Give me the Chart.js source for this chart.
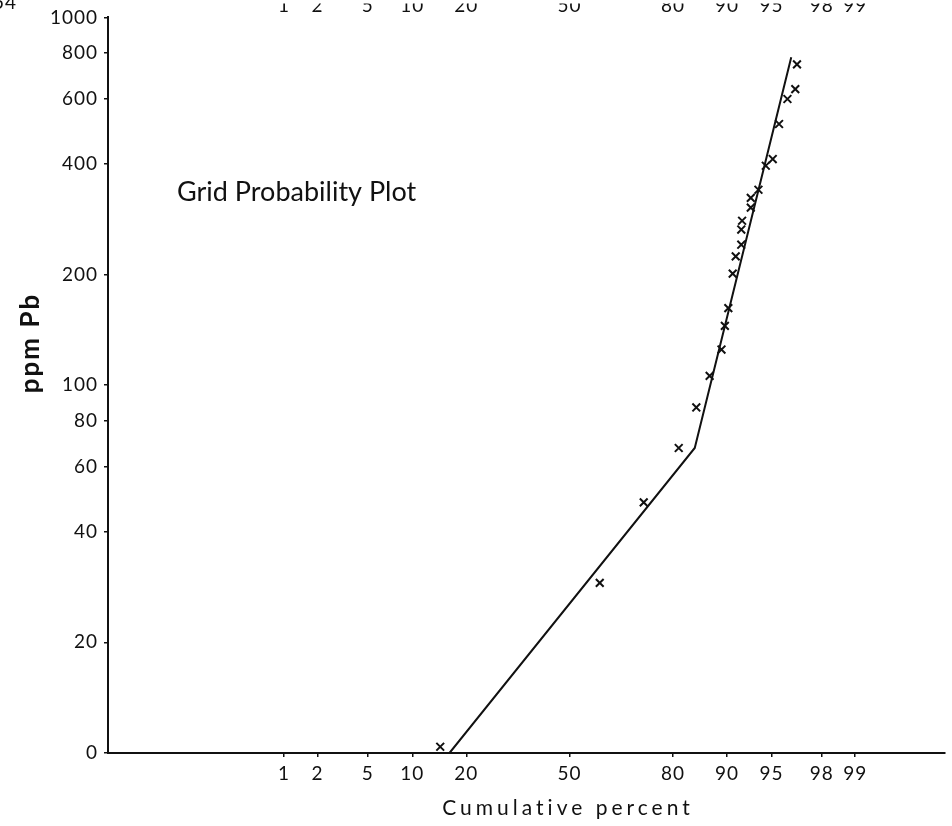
<!DOCTYPE html>
<html>
<head>
<meta charset="utf-8">
<title>Grid Probability Plot</title>
<script src="https://cdn.jsdelivr.net/npm/chart.js@4.4.1/dist/chart.umd.min.js"></script>
<style>
    html, body { margin: 0; padding: 0; background: #fff; overflow: hidden; }
    canvas { display: block; }
</style>
</head>
<body>
<canvas id="probChart" width="952" height="826"></canvas>
<script>
// samples: cumulative percent (x) and lead content, ppm (y)
const cumPercent = [96.8, 96.7, 96.2, 95.6, 95.1, 94.5, 93.8, 93.0, 93.0, 92.0, 91.9, 91.9, 91.2, 90.8, 90.2, 89.7, 89.2, 87.3, 84.9, 81.3, 72.7, 59.7, 14.6];
const ppmPb = [745, 638, 600, 513, 412, 395, 340, 323, 304, 280, 265, 241, 224, 201, 162, 145, 125, 106, 87, 67.5, 48, 29, 10.4];

// hand fitted line through the two populations
const fitPercent = [16.4, 84.6, 96.45];
const fitPpm = [10, 67.5, 779];

const xTicks = [1, 2, 5, 10, 20, 50, 80, 90, 95, 98, 99];
const yTicks = [10, 20, 40, 60, 80, 100, 200, 400, 600, 800, 1000];
const yTickLabels = ['0', '20', '40', '60', '80', '100', '200', '400', '600', '800', '1000'];

const xMin = 0.0085;
const xMax = 99.887;

// inverse normal cdf (Acklam)
function probit(p) {
    const a = [-39.69683028665376, 220.9460984245205, -275.9285104469687, 138.357751867269, -30.66479806614716, 2.506628277459239];
    const b = [-54.47609879822406, 161.5858368580409, -155.6989798598866, 66.80131188771972, -13.28068155288572];
    const c = [-0.007784894002430293, -0.3223964580411365, -2.400758277161838, -2.549732539343734, 4.374664141464968, 2.938163982698783];
    const d = [0.007784695709041462, 0.3224671290700398, 2.445134137142996, 3.754408661907416];
    const plow = 0.02425;
    let q, r;
    if (p < plow) {
        q = Math.sqrt(-2 * Math.log(p));
        return (((((c[0] * q + c[1]) * q + c[2]) * q + c[3]) * q + c[4]) * q + c[5]) /
            ((((d[0] * q + d[1]) * q + d[2]) * q + d[3]) * q + 1);
    }
    if (p > 1 - plow) {
        q = Math.sqrt(-2 * Math.log(1 - p));
        return -(((((c[0] * q + c[1]) * q + c[2]) * q + c[3]) * q + c[4]) * q + c[5]) /
            ((((d[0] * q + d[1]) * q + d[2]) * q + d[3]) * q + 1);
    }
    q = p - 0.5;
    r = q * q;
    return (((((a[0] * r + a[1]) * r + a[2]) * r + a[3]) * r + a[4]) * r + a[5]) * q /
        (((((b[0] * r + b[1]) * r + b[2]) * r + b[3]) * r + b[4]) * r + 1);
}

function normCdf(z) {
    const t = 1 / (1 + 0.2316419 * Math.abs(z));
    const poly = t * (0.319381530 + t * (-0.356563782 + t * (1.781477937 + t * (-1.821255978 + t * 1.330274429))));
    const tail = Math.exp(-z * z / 2) / Math.sqrt(2 * Math.PI) * poly;
    return z >= 0 ? 1 - tail : tail;
}

// probability (normal) axis for cumulative percent
class ProbitScale extends Chart.Scale {
    determineDataLimits() {
        this.min = this.options.min;
        this.max = this.options.max;
    }
    buildTicks() {
        return xTicks.map(v => ({ value: v }));
    }
    getLabelForValue(v) {
        return String(v);
    }
    configure() {
        super.configure();
        this._zStart = probit(this.min / 100);
        this._zRange = probit(this.max / 100) - this._zStart;
    }
    getPixelForValue(v) {
        if (v === null || v === undefined || isNaN(v)) return NaN;
        return this.getPixelForDecimal((probit(v / 100) - this._zStart) / this._zRange);
    }
    getValueForPixel(px) {
        return 100 * normCdf(this._zStart + this.getDecimalForPixel(px) * this._zRange);
    }
}
ProbitScale.id = 'probit';
ProbitScale.defaults = {};
Chart.register(ProbitScale);

const ink = '#111111';
const tickFont = { family: 'Lato', size: 19 };

const textPlugin = {
    id: 'plotText',
    beforeDraw(chart) {
        chart.ctx.letterSpacing = '1px';
    },
    afterDraw(chart) {
        const ctx = chart.ctx;
        ctx.save();
        ctx.fillStyle = ink;

        ctx.font = '27px Lato';
        ctx.letterSpacing = '0px';
        ctx.textAlign = 'left';
        ctx.textBaseline = 'alphabetic';
        ctx.fillText('Grid Probability Plot', 177, 201);

        ctx.font = '21px Lato';
        ctx.letterSpacing = '4px';
        ctx.textAlign = 'center';
        ctx.fillText('Cumulative percent', 568, 815);

        ctx.font = 'bold 26px Lato';
        ctx.letterSpacing = '2px';
        ctx.translate(31, 343);
        ctx.rotate(-Math.PI / 2);
        ctx.textBaseline = 'middle';
        ctx.fillText('ppm Pb', 0, 0);
        ctx.restore();

        // cut-off label of the neighbouring figure
        ctx.save();
        ctx.fillStyle = ink;
        ctx.font = '19px Lato';
        ctx.letterSpacing = '1px';
        ctx.textBaseline = 'alphabetic';
        ctx.fillText('54', -7, 9);
        ctx.restore();
    }
};

const points = cumPercent.map((p, i) => ({ x: p, y: ppmPb[i] }));
const fitLine = fitPercent.map((p, i) => ({ x: p, y: fitPpm[i] }));

new Chart(document.getElementById('probChart'), {
    type: 'scatter',
    data: {
        datasets: [{
            label: 'samples',
            data: points,
            pointStyle: 'crossRot',
            pointRadius: 5.5,
            borderColor: ink,
            backgroundColor: ink,
            borderWidth: 2,
            showLine: false
        }, {
            label: 'fit',
            data: fitLine,
            showLine: true,
            pointRadius: 0,
            borderColor: ink,
            borderWidth: 2,
            tension: 0
        }]
    },
    options: {
        responsive: false,
        devicePixelRatio: 1,
        animation: false,
        events: [],
        layout: { padding: 0 },
        plugins: {
            legend: { display: false },
            tooltip: { enabled: false }
        },
        scales: {
            x: {
                type: 'probit',
                position: 'bottom',
                min: xMin,
                max: xMax,
                afterFit: s => { s.height = 73; },
                grid: { display: true, drawOnChartArea: false, drawTicks: true, tickLength: 4, color: ink, lineWidth: 1.5 },
                border: { display: true, color: ink, width: 2 },
                ticks: { color: ink, font: tickFont, padding: 5, maxRotation: 0, autoSkip: false, callback: v => String(v) }
            },
            x2: {
                type: 'probit',
                position: 'top',
                min: xMin,
                max: xMax,
                afterFit: s => { s.height = 14; },
                grid: { display: false, drawTicks: false },
                border: { display: false },
                ticks: { color: ink, font: tickFont, padding: 0, maxRotation: 0, autoSkip: false, callback: v => String(v) }
            },
            y: {
                type: 'logarithmic',
                position: 'left',
                min: 10,
                max: 1000,
                afterFit: s => { s.width = 108; },
                afterBuildTicks: s => { s.ticks = yTicks.map(v => ({ value: v })); },
                grid: { display: true, drawOnChartArea: false, drawTicks: true, tickLength: 4, color: ink, lineWidth: 1.5 },
                border: { display: true, color: ink, width: 2 },
                ticks: {
                    color: ink,
                    font: tickFont,
                    padding: 6,
                    autoSkip: false,
                    callback: v => yTickLabels[yTicks.indexOf(v)]
                }
            }
        }
    },
    plugins: [textPlugin]
});
</script>
</body>
</html>
